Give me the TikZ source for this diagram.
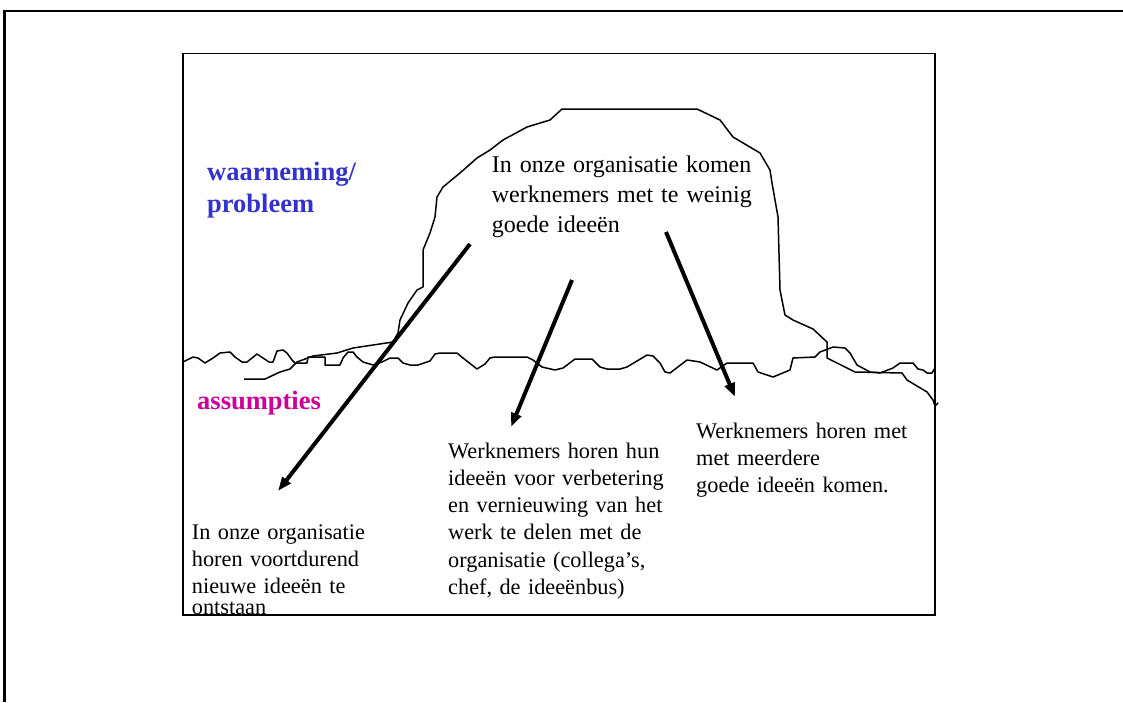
\documentclass[tikz,border=0pt]{standalone}
\usepackage{fontspec}
\setmainfont{Liberation Serif}
\usetikzlibrary{arrows.meta}
\definecolor{wblue}{RGB}{51,51,204}
\definecolor{amag}{RGB}{204,0,153}
\begin{document}
\begin{tikzpicture}[x=1pt,y=-1pt,
  frame/.style={line width=2.5pt},
  inner/.style={line width=1.7pt},
  wave/.style={line width=1.5pt,line join=round},
  arrowline/.style={line width=4pt,-{Triangle[length=14pt,width=10pt]}},
  txt/.style={inner sep=0pt,anchor=base west,text width=250pt,align=left,font=\fontsize{22.3}{27.3}\selectfont},
  toptxt/.style={inner sep=0pt,anchor=base west,text width=320pt,align=left,font=\fontsize{24}{30}\selectfont},
  lab/.style={inner sep=0pt,anchor=base west,text width=200pt,align=left,font=\bfseries\fontsize{26.5}{32}\selectfont}]
\useasboundingbox (0,0) rectangle (1123,702);
% outer frame (top and left)
\draw[frame] (4.5,702) -- (4.5,11) -- (1123,11);
% inner rectangle
\draw[inner] (183,53.5) rectangle (935,615);
% water line
\draw[wave] (183,362) -- (193,357) -- (198,358) -- (205,363) -- (213,358) -- (220,353) -- (230,352) -- (235,357) -- (242,362) -- (247,362) -- (257,354) -- (263,358) -- (269,362) -- (273,362) -- (277,351) -- (283,350) -- (287,353) -- (292,360) -- (295,363) -- (307,363) -- (308,357) -- (325,357) -- (325,365) -- (340,365) -- (343,358) -- (348,352) -- (353,352) -- (357,357) -- (363,362) -- (373,365) -- (382,362) -- (390,358) -- (398,358) -- (403,363) -- (410,365) -- (418,365) -- (430,361) -- (435,354) -- (440,353) -- (457,353) -- (463,358) -- (477,369) -- (485,364) -- (490,358) -- (495,357) -- (527,357) -- (533,360) -- (542,367) -- (555,370) -- (563,368) -- (575,359) -- (592,359) -- (600,367) -- (607,369) -- (620,369) -- (627,367) -- (647,355) -- (653,356) -- (660,363) -- (665,372) -- (670,373) -- (687,360) -- (700,362) -- (717,370) -- (727,363) -- (753,363) -- (758,372) -- (773,377) -- (790,370) -- (793,358) -- (815,357) -- (820,352) -- (833,347) -- (845,348) -- (850,353) -- (857,365) -- (870,372) -- (880,373) -- (893,368) -- (900,363) -- (913,363) -- (918,369) -- (923,370) -- (927,373) -- (932,373) -- (935,368);
% iceberg outline
\draw[wave] (244,379) -- (265,379) -- (280,372) -- (290,369) -- (297,362) -- (313,356) -- (337,353) -- (353,348) -- (393,342) -- (398,333) -- (400,320) -- (408,303) -- (417,290) -- (423,287) -- (423,250) -- (430,233) -- (435,217) -- (437,197) -- (443,187) -- (460,173) -- (477,158) -- (490,150) -- (503,140) -- (527,127) -- (550,120) -- (562,109) -- (697,109) -- (720,120) -- (733,137) -- (760,153) -- (770,170) -- (772,183) -- (778,217) -- (780,290) -- (785,315) -- (793,320) -- (813,329) -- (827,342) -- (827,358) -- (855,372) -- (902,373) -- (907,380) -- (927,392) -- (933,400) -- (935,406) -- (938,403);
% texts
\node[lab,text=wblue] (waar) at (207,180) {waarneming/\\probleem};
\node[lab,text=amag] (ass) at (197,409) {assumpties};
\node[toptxt] (top) at (491.7,172) {In onze organisatie komen\\werknemers met te weinig\\goede ideeën};
\node[txt] (left) at (191.7,539) {In onze organisatie\\horen voortdurend\\nieuwe ideeën te\\[-6pt]ontstaan};
\node[txt] (mid) at (448,458) {Werknemers horen hun\\ideeën voor verbetering\\en vernieuwing van het\\werk te delen met de\\organisatie (collega’s,\\chef, de ideeënbus)};
\node[txt] (right) at (696,438) {Werknemers horen met\\met meerdere\\goede ideeën komen.};
% arrow end points
\coordinate (a1s) at (470,244);
\coordinate (a1e) at (278,491);
\coordinate (a2s) at (572,280);
\coordinate (a2e) at (511,427);
\coordinate (a3s) at (666,232);
\coordinate (a3e) at (735,397);
\draw[arrowline] (a1s) -- (a1e);
\draw[arrowline] (a2s) -- (a2e);
\draw[arrowline] (a3s) -- (a3e);
\end{tikzpicture}
\end{document}
